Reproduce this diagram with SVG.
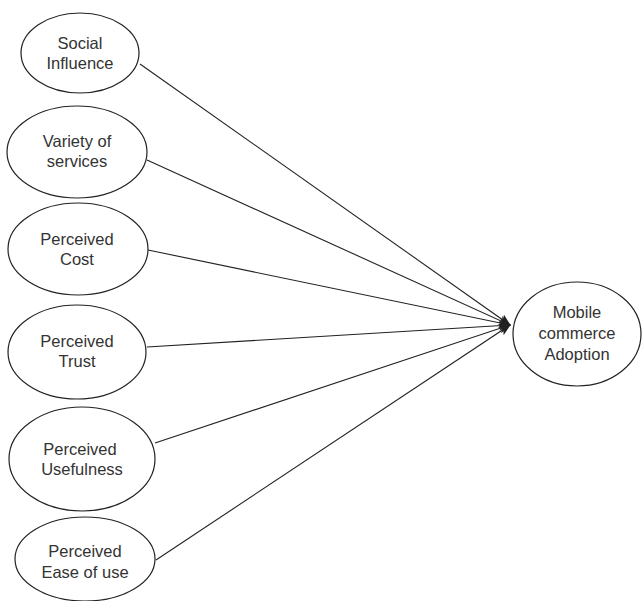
<svg xmlns="http://www.w3.org/2000/svg" width="643" height="601" viewBox="0 0 643 601">
<defs>
<style>
.node ellipse{fill:#fff;stroke:#222;stroke-width:1.2}
.node text{font-family:"Liberation Sans",Arial,sans-serif;font-size:16.5px;fill:#333;text-anchor:middle}
.edge{stroke:#222;stroke-width:1.1;fill:none;marker-end:url(#arr)}
</style>
<marker id="arr" viewBox="0 0 12 10" refX="11" refY="5" markerWidth="12" markerHeight="10" markerUnits="userSpaceOnUse" orient="auto">
<path d="M0,0 L12,5 L0,10 L3,5 Z" fill="#222"/>
</marker>
</defs>
<rect width="643" height="601" fill="#fff"/>
<g id="connectors">
<line class="edge" x1="140" y1="64" x2="510" y2="325"/>
<line class="edge" x1="147" y1="160" x2="510" y2="325"/>
<line class="edge" x1="148" y1="250" x2="510" y2="325"/>
<line class="edge" x1="147" y1="347" x2="510" y2="325"/>
<line class="edge" x1="155" y1="443" x2="510" y2="325"/>
<line class="edge" x1="156" y1="560" x2="510" y2="325"/>
</g>
<g id="social-influence" class="node">
<ellipse cx="80" cy="53" rx="59" ry="40"/>
<text x="80" y="49">Social</text>
<text x="80" y="69">Influence</text>
</g>
<g id="variety-of-services" class="node">
<ellipse cx="77" cy="152" rx="70" ry="46"/>
<text x="77" y="147">Variety of</text>
<text x="77" y="167">services</text>
</g>
<g id="perceived-cost" class="node">
<ellipse cx="78" cy="249" rx="70" ry="46"/>
<text x="77" y="245">Perceived</text>
<text x="77" y="265">Cost</text>
</g>
<g id="perceived-trust" class="node">
<ellipse cx="77" cy="352" rx="69" ry="47"/>
<text x="77" y="347">Perceived</text>
<text x="77" y="367">Trust</text>
</g>
<g id="perceived-usefulness" class="node">
<ellipse cx="82" cy="459" rx="73" ry="52"/>
<text x="80" y="455">Perceived</text>
<text x="82" y="475">Usefulness</text>
</g>
<g id="perceived-ease-of-use" class="node">
<ellipse cx="85" cy="559" rx="70" ry="42"/>
<text x="85" y="557">Perceived</text>
<text x="85" y="578">Ease of use</text>
</g>
<g id="mobile-commerce-adoption" class="node">
<ellipse cx="577" cy="334" rx="64" ry="52"/>
<text x="577" y="318">Mobile</text>
<text x="577" y="339">commerce</text>
<text x="577" y="360">Adoption</text>
</g>
</svg>
